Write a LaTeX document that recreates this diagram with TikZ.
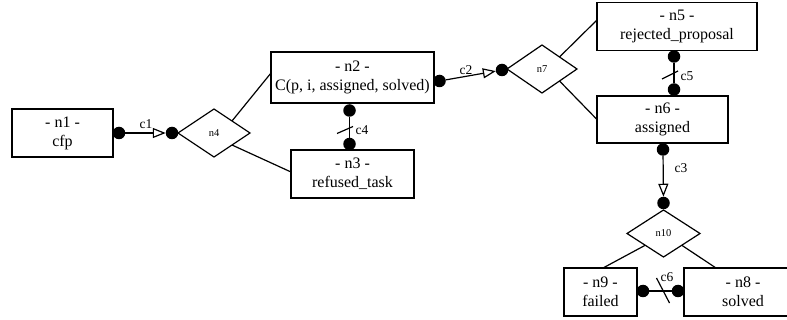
\documentclass[tikz,border=0pt]{standalone}
\usepackage{fontspec}
\setmainfont{Liberation Serif}
\usetikzlibrary{shapes.geometric,arrows.meta,calc}

\begin{document}
\begin{tikzpicture}[x=1pt,y=-1pt,
  box/.style={draw, line width=1.2pt, rectangle, inner sep=0pt, outer sep=0pt,
    align=center, font=\fontsize{16}{19}\selectfont},
  gate/.style={draw, line width=1.2pt, diamond, inner sep=0pt, outer sep=0pt,
    font=\fontsize{10.5}{12}\selectfont},
  dot/.style={circle, fill=black, inner sep=0pt, outer sep=0pt, minimum size=12.5pt},
  link/.style={line width=1.2pt},
  flow/.style={line width=1.2pt,
    -{Triangle[open, length=13pt, width=10pt, line width=1.2pt]}},
  clabel/.style={font=\fontsize{13.5}{15}\selectfont, inner sep=0pt},
]
\useasboundingbox (0,0) rectangle (787,320);
\begin{scope}
\clip (0,0) rectangle (787,320);

% states
\node[box, minimum width=101pt, minimum height=48pt] (n1) at (62.5,133) {- n1 -\\cfp};
\node[box, minimum width=163pt, minimum height=51pt] (n2) at (352.5,77.5) {- n2 -\\C(p, i, assigned, solved)};
\node[box, minimum width=123pt, minimum height=48pt] (n3) at (352.5,174) {- n3 -\\refused\_task};
\node[box, minimum width=160pt, minimum height=48pt] (n5) at (677,26.5) {- n5 -\\rejected\_proposal};
\node[box, minimum width=131pt, minimum height=47pt] (n6) at (662.5,119.5) {- n6 -\\assigned};
\node[box, minimum width=73pt, minimum height=48pt] (n9) at (600.5,292) {- n9 -\\failed};
\node[box, minimum width=118pt, minimum height=48pt] (n8) at (743,292) {- n8 -\\solved};

% choice points
\node[gate, minimum width=72pt, minimum height=48pt] (n4) at (214,133) {n4};
\node[gate, minimum width=70pt, minimum height=48pt] (n7) at (542,69) {n7};
\node[gate, minimum width=73pt, minimum height=47pt] (n10) at (663.5,233.5) {n10};

% branches out of the choice points
\draw[link] (n4.north east) -- ($(n2.west)+(0,-4.5)$);
\draw[link] (n4.south east) -- ($(n3.west)+(0,-2)$);
\draw[link] (n7.north east) -- ($(n5.west)+(0,-6.5)$);
\draw[link] (n7.south east) -- (n6.west);
\draw[link] (n10.south west) -- ($(n9.north)+(2.5,0)$);
\draw[link] (n10.south east) -- ($(n8.north)+(-27,0)$);

% connector end points
\node[dot] (d1a) at ($(n1.east)+(6,0)$) {};
\node[dot] (d1b) at ($(n4.west)+(-6,0)$) {};
\node[dot] (d2a) at ($(n2.east)+(5.5,3.5)$) {};
\node[dot] (d2b) at ($(n7.west)+(-5,1)$) {};
\node[dot] (d3a) at ($(n6.south)+(0.5,6.5)$) {};
\node[dot] (d3b) at ($(n10.north)+(0,-7)$) {};
\node[dot] (d4a) at ($(n2.south)+(-3,7.5)$) {};
\node[dot] (d4b) at ($(n3.north)+(-3,-6)$) {};
\node[dot] (d5a) at ($(n5.south)+(-3,6)$) {};
\node[dot] (d5b) at ($(n6.north)+(11.5,-6.5)$) {};
\node[dot] (d6a) at ($(n9.east)+(6,-1)$) {};
\node[dot] (d6b) at ($(n8.west)+(-6,-1)$) {};

% connectors
\draw[flow] (d1a) -- (d1b);
\draw[flow] (d2a) -- (d2b);
\draw[flow] (d3a) -- (d3b);
\draw[link] (d4a) -- (d4b);
\draw[link] (d5a) -- (d5b);
\draw[link] (d6a) -- (d6b);

% crossing marks
\draw[link] ($(d4a)!0.5!(d4b)+(-12.5,6.25)$) -- ($(d4a)!0.5!(d4b)+(3.5,-0.75)$);
\draw[link] ($(d5a)!0.5!(d5b)+(-12,6)$) -- ($(d5a)!0.5!(d5b)+(4,-2)$);
\draw[link] ($(d6a)!0.5!(d6b)+(-4,-13)$) -- ($(d6a)!0.5!(d6b)+(9,12)$);

% connector labels
\node[clabel] (l1) at (146,124) {c1};
\node[clabel] (l2) at (466,70) {c2};
\node[clabel] (l3) at (681,168) {c3};
\node[clabel] (l4) at (362,130) {c4};
\node[clabel] (l5) at (687,76) {c5};
\node[clabel] (l6) at (667,277) {c6};
\end{scope}
\end{tikzpicture}
\end{document}
